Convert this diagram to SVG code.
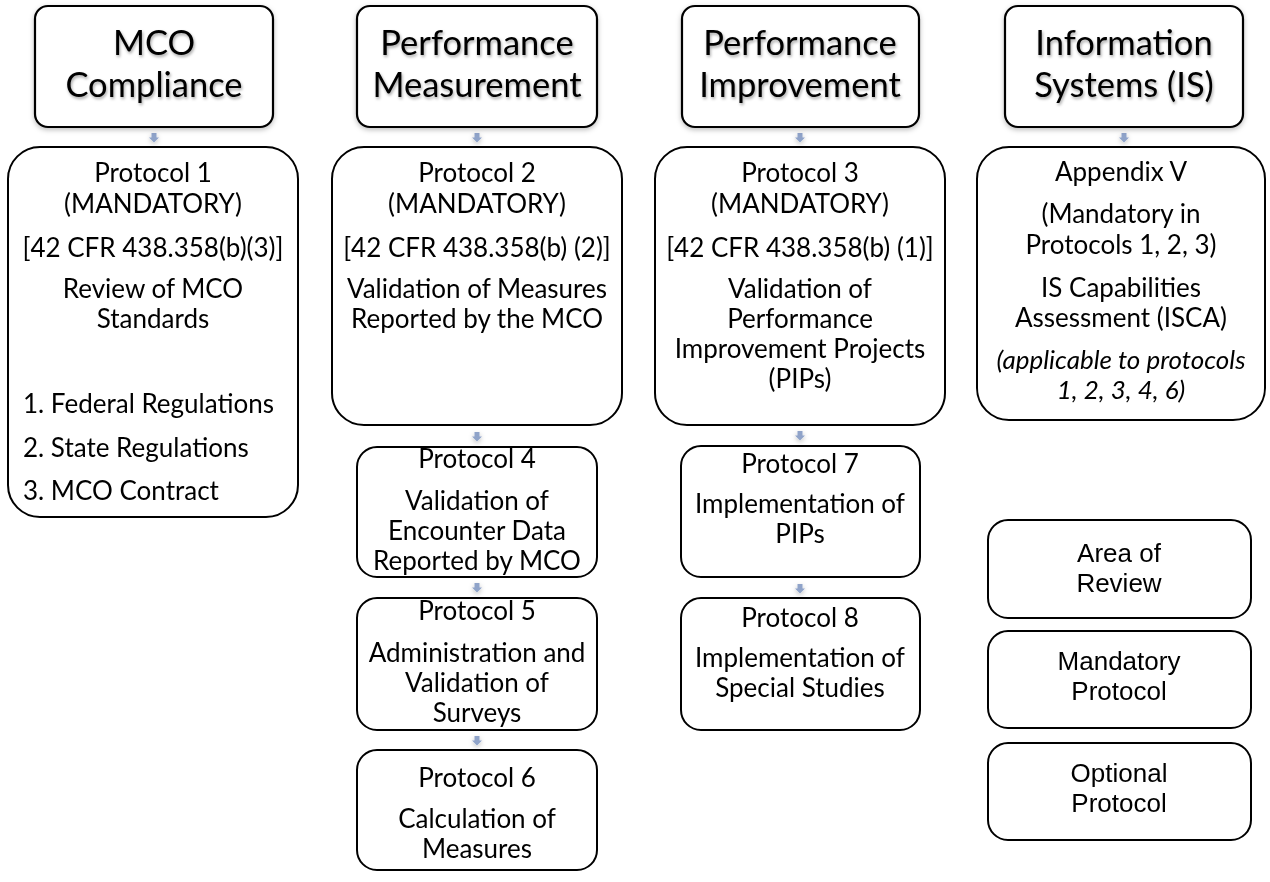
<svg xmlns="http://www.w3.org/2000/svg" width="1270" height="882" viewBox="0 0 1270 882">
<defs>
<style>
.hb{fill:#fff;stroke:#000;stroke-width:2.2}
.b{fill:#fff;stroke:#000;stroke-width:2}
.h{font-family:Lato,'Liberation Sans',sans-serif;font-size:34.5px;fill:#000;text-anchor:middle}
.t{font-family:Lato,'Liberation Sans',sans-serif;font-size:26px;fill:#000;text-anchor:middle}
.l{text-anchor:start}
.i{font-style:italic}
.g{font-family:'Liberation Sans',Arial,sans-serif;font-size:26px;fill:#000;text-anchor:middle}
.ar{fill:#8FA3C9}
</style>
<filter id="sh" x="-20%" y="-20%" width="140%" height="140%"><feDropShadow dx="0" dy="2" stdDeviation="2.5" flood-color="#000" flood-opacity="0.25"/></filter>
<filter id="ts" x="-10%" y="-20%" width="120%" height="150%"><feDropShadow dx="1" dy="2" stdDeviation="1.5" flood-color="#000" flood-opacity="0.35"/></filter>
<path id="arw" d="M-2.5,0 h5 v4.5 h2.5 l-5,5 l-5,-5 h2.5 z"/>
</defs>

<g id="connectors" class="ar" filter="url(#sh)">
<use href="#arw" x="154" y="133"/>
<use href="#arw" x="477" y="133"/>
<use href="#arw" x="800" y="133"/>
<use href="#arw" x="1124" y="133"/>
<use href="#arw" x="477" y="432"/>
<use href="#arw" x="477" y="583"/>
<use href="#arw" x="477" y="736"/>
<use href="#arw" x="800" y="431"/>
<use href="#arw" x="800" y="584"/>
</g>

<g id="hdr-mco">
<rect class="hb" x="35" y="6" width="238" height="121" rx="13" filter="url(#sh)"/>
<g filter="url(#ts)"><text class="h" x="154" y="55">MCO</text><text class="h" x="154" y="97">Compliance</text></g>
</g>
<g id="hdr-pm">
<rect class="hb" x="357" y="6" width="240" height="121" rx="13" filter="url(#sh)"/>
<g filter="url(#ts)"><text class="h" x="477" y="55">Performance</text><text class="h" x="477" y="97">Measurement</text></g>
</g>
<g id="hdr-pi">
<rect class="hb" x="682" y="6" width="237" height="121" rx="13" filter="url(#sh)"/>
<g filter="url(#ts)"><text class="h" x="800" y="55">Performance</text><text class="h" x="800" y="97">Improvement</text></g>
</g>
<g id="hdr-is">
<rect class="hb" x="1005" y="6" width="238" height="121" rx="13" filter="url(#sh)"/>
<g filter="url(#ts)"><text class="h" x="1124" y="55">Information</text><text class="h" x="1124" y="97">Systems (IS)</text></g>
</g>

<g id="p1">
<rect class="b" x="8" y="147" width="290" height="370" rx="32"/>
<text class="t" x="153" y="182">Protocol 1</text>
<text class="t" x="153" y="213">(MANDATORY)</text>
<text class="t" x="153" y="257">[42 CFR 438.358(b)(3)]</text>
<text class="t" x="153" y="298">Review of MCO</text>
<text class="t" x="153" y="328">Standards</text>
<text class="t l" x="23" y="413">1. Federal Regulations</text>
<text class="t l" x="23" y="457">2. State Regulations</text>
<text class="t l" x="23" y="500">3. MCO Contract</text>
</g>

<g id="p2">
<rect class="b" x="332" y="147" width="290" height="278" rx="32"/>
<text class="t" x="477" y="182">Protocol 2</text>
<text class="t" x="477" y="213">(MANDATORY)</text>
<text class="t" x="477" y="257">[42 CFR 438.358(b) (2)]</text>
<text class="t" x="477" y="298">Validation of Measures</text>
<text class="t" x="477" y="328">Reported by the MCO</text>
</g>

<g id="p3">
<rect class="b" x="655" y="147" width="290" height="278" rx="32"/>
<text class="t" x="800" y="182">Protocol 3</text>
<text class="t" x="800" y="213">(MANDATORY)</text>
<text class="t" x="800" y="257">[42 CFR 438.358(b) (1)]</text>
<text class="t" x="800" y="298">Validation of</text>
<text class="t" x="800" y="328">Performance</text>
<text class="t" x="800" y="358">Improvement Projects</text>
<text class="t" x="800" y="388">(PIPs)</text>
</g>

<g id="appendix-v">
<rect class="b" x="977" y="147" width="288" height="273" rx="32"/>
<text class="t" x="1121" y="181">Appendix V</text>
<text class="t" x="1121" y="223">(Mandatory in</text>
<text class="t" x="1121" y="254">Protocols 1, 2, 3)</text>
<text class="t" x="1121" y="297">IS Capabilities</text>
<text class="t" x="1121" y="327">Assessment (ISCA)</text>
<text class="t i" x="1121" y="369">(applicable to protocols</text>
<text class="t i" x="1121" y="399">1, 2, 3, 4, 6)</text>
</g>

<g id="p4">
<rect class="b" x="357" y="447" width="240" height="130" rx="20"/>
<text class="t" x="477" y="468">Protocol 4</text>
<text class="t" x="477" y="510">Validation of</text>
<text class="t" x="477" y="540">Encounter Data</text>
<text class="t" x="477" y="570">Reported by MCO</text>
</g>

<g id="p5">
<rect class="b" x="357" y="598" width="240" height="132" rx="20"/>
<text class="t" x="477" y="620">Protocol 5</text>
<text class="t" x="477" y="662">Administration and</text>
<text class="t" x="477" y="692">Validation of</text>
<text class="t" x="477" y="722">Surveys</text>
</g>

<g id="p6">
<rect class="b" x="357" y="750" width="240" height="120" rx="20"/>
<text class="t" x="477" y="787">Protocol 6</text>
<text class="t" x="477" y="828">Calculation of</text>
<text class="t" x="477" y="858">Measures</text>
</g>

<g id="p7">
<rect class="b" x="681" y="446" width="239" height="131" rx="20"/>
<text class="t" x="800" y="473">Protocol 7</text>
<text class="t" x="800" y="513">Implementation of</text>
<text class="t" x="800" y="543">PIPs</text>
</g>

<g id="p8">
<rect class="b" x="681" y="598" width="239" height="132" rx="20"/>
<text class="t" x="800" y="627">Protocol 8</text>
<text class="t" x="800" y="667">Implementation of</text>
<text class="t" x="800" y="697">Special Studies</text>
</g>

<g id="legend-area">
<rect class="b" x="988" y="520" width="263" height="98" rx="20"/>
<text class="g" x="1119" y="562">Area of</text>
<text class="g" x="1119" y="592">Review</text>
</g>
<g id="legend-mandatory">
<rect class="b" x="988" y="631" width="263" height="97" rx="20"/>
<text class="g" x="1119" y="670">Mandatory</text>
<text class="g" x="1119" y="700">Protocol</text>
</g>
<g id="legend-optional">
<rect class="b" x="988" y="743" width="263" height="97" rx="20"/>
<text class="g" x="1119" y="782">Optional</text>
<text class="g" x="1119" y="812">Protocol</text>
</g>
</svg>
